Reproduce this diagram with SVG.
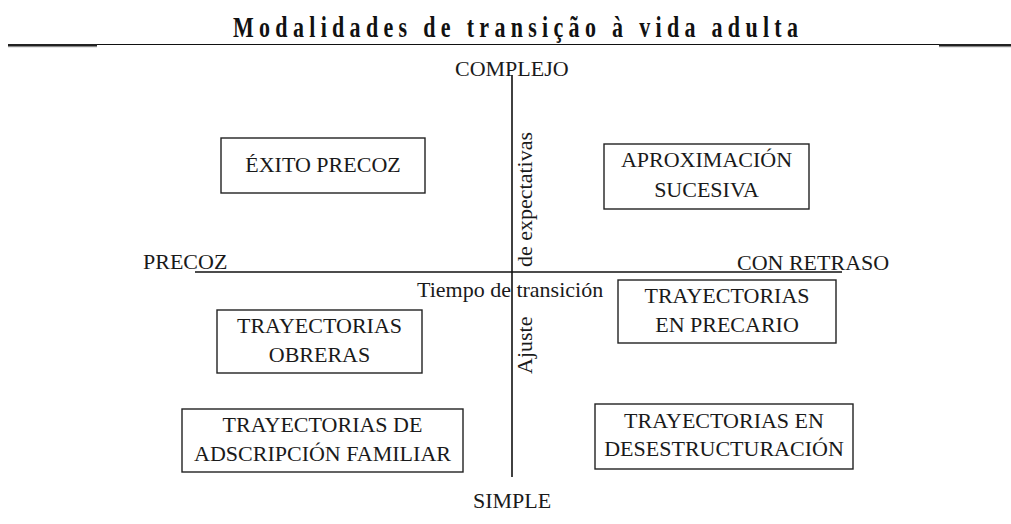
<svg xmlns="http://www.w3.org/2000/svg" width="1011" height="524" viewBox="0 0 1011 524">
<style>
.t{font-family:"Liberation Serif","Times New Roman",serif;font-size:22px;fill:#1a1a1a}
.c{text-anchor:middle}
.box{fill:none;stroke:#222;stroke-width:1.4}
.ax{stroke:#111;stroke-width:1.6;fill:none}
.title{font-family:"Liberation Serif","Times New Roman",serif;font-size:22px;font-weight:bold;fill:#111}
</style>
<rect width="1011" height="524" fill="#fff"/>
<g id="header">
<text class="title" transform="translate(233,37) scale(1,1.3)" textLength="565" lengthAdjust="spacing">Modalidades de transição à vida adulta</text>
<line x1="8" y1="44.5" x2="1011" y2="44.5" stroke="#111" stroke-width="1"/>
<rect x="8" y="44" width="89" height="2" fill="#222"/>
<rect x="8" y="46" width="89" height="1.2" fill="#888"/>
<rect x="939" y="44" width="72" height="2" fill="#222"/>
<rect x="939" y="46" width="72" height="1.2" fill="#888"/>
</g>
<g id="axes">
<line class="ax" x1="512" y1="75" x2="512" y2="477"/>
<line class="ax" x1="195" y1="272" x2="842" y2="272"/>
</g>
<g id="axis-labels">
<text class="t" x="455" y="76">COMPLEJO</text>
<text class="t" x="473" y="508">SIMPLE</text>
<text class="t" x="143" y="269">PRECOZ</text>
<text class="t" x="737" y="270">CON RETRASO</text>
<text class="t" x="417" y="297">Tiempo de transición</text>
<text class="t" transform="translate(532,267) rotate(-90)">de expectativas</text>
<text class="t" transform="translate(532,374) rotate(-90)">Ajuste</text>
</g>
<g id="exito-precoz">
<rect class="box" x="221" y="138" width="204" height="55"/>
<text class="t c" x="323" y="172">ÉXITO PRECOZ</text>
</g>
<g id="aproximacion-sucesiva">
<rect class="box" x="604" y="144" width="205" height="65"/>
<text class="t c" x="706.5" y="167">APROXIMACIÓN</text>
<text class="t c" x="706.5" y="197">SUCESIVA</text>
</g>
<g id="trayectorias-precario">
<rect class="box" x="618" y="280" width="218" height="63"/>
<text class="t c" x="727" y="303">TRAYECTORIAS</text>
<text class="t c" x="727" y="332">EN PRECARIO</text>
</g>
<g id="trayectorias-obreras">
<rect class="box" x="217" y="310" width="205" height="63"/>
<text class="t c" x="319.5" y="333">TRAYECTORIAS</text>
<text class="t c" x="319.5" y="362">OBRERAS</text>
</g>
<g id="trayectorias-adscripcion">
<rect class="box" x="182" y="409" width="281" height="63"/>
<text class="t c" x="322.5" y="432">TRAYECTORIAS DE</text>
<text class="t c" x="322.5" y="461">ADSCRIPCIÓN FAMILIAR</text>
</g>
<g id="trayectorias-desestructuracion">
<rect class="box" x="595" y="404" width="258" height="65"/>
<text class="t c" x="724" y="428">TRAYECTORIAS EN</text>
<text class="t c" x="724" y="456">DESESTRUCTURACIÓN</text>
</g>
</svg>
